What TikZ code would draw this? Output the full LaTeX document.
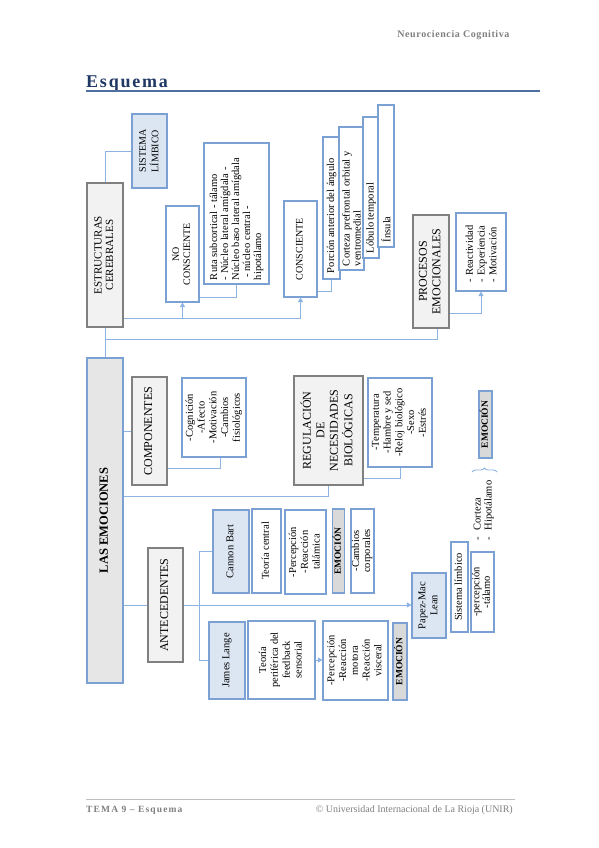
\documentclass[tikz,border=0pt]{standalone}
\usepackage{fontspec}
\setmainfont{Liberation Serif}
\usepackage{graphicx}
\usetikzlibrary{arrows.meta, decorations.pathreplacing}

\definecolor{boxblue}{HTML}{7BA0D3}
\definecolor{lineblue}{HTML}{8DB3E2}
\definecolor{lightblue}{HTML}{DCE6F2}
\definecolor{boxgray}{HTML}{808080}
\definecolor{fillgray}{HTML}{F2F2F2}
\definecolor{emogray}{HTML}{D9D9D9}
\definecolor{maingray}{HTML}{E6E6E6}
\definecolor{titleblue}{HTML}{1F3864}
\definecolor{ruleblue}{HTML}{4F6FA0}
\definecolor{textgray}{HTML}{7F7F7F}

% rotated text, read from bottom to top
\newcommand{\vtext}[2][c]{\rotatebox{90}{\begin{tabular}{@{}#1@{}}#2\end{tabular}}}
\newcommand{\vpar}[2]{\rotatebox{90}{\parbox{#1}{\raggedright #2}}}
\newcommand{\smtxt}{\fontsize{10.5}{11.8}\selectfont}
\newcommand{\bigtxt}{\fontsize{12}{13.5}\selectfont}

\begin{document}
\begin{tikzpicture}[x=1pt, y=-1pt,
    bx/.style={rectangle, inner sep=0pt, line width=1.1pt, font=\smtxt},
    wbox/.style={bx, draw=boxblue, fill=white},
    lbox/.style={bx, draw=boxblue, fill=lightblue},
    gbox/.style={bx, draw=boxgray, fill=fillgray, font=\bigtxt},
    ebox/.style={bx, draw=boxblue, fill=emogray, font=\fontsize{9.5}{11}\selectfont\bfseries},
    sz/.style 2 args={minimum width=#1pt, minimum height=#2pt},
    ln/.style={draw=lineblue, line width=0.9pt},
    ar/.style={ln, -{Triangle[width=5pt,length=4.5pt]}}
  ]
  \useasboundingbox (0,0) rectangle (599,848);

  % header and footer
  \node[anchor=east, font=\fontsize{10}{12}\selectfont\bfseries, text=textgray] (hdr) at (513,35)
    {\addfontfeatures{LetterSpace=6}Neurociencia Cognitiva};
  \node[anchor=base west, inner sep=0pt, font=\fontsize{18}{20}\selectfont\bfseries, text=titleblue] (tit) at (86,88)
    {\addfontfeatures{LetterSpace=10}Esquema};
  \draw[ruleblue, line width=1.5pt] (86,91) -- (540,91);
  \draw[black!25, line width=1pt] (86,799) -- (515,799);
  \node[anchor=west, inner sep=0pt, font=\fontsize{9.5}{11}\selectfont\bfseries, text=textgray] (ftl) at (86,810)
    {\addfontfeatures{LetterSpace=12}TEMA 9 – Esquema};
  \node[anchor=east, inner sep=0pt, font=\fontsize{10}{11}\selectfont, text=textgray] (ftr) at (513,810)
    {© Universidad Internacional de La Rioja (UNIR)};

  % estructuras cerebrales
  \node[gbox, sz={36}{144}, font=\fontsize{11}{11.5}\selectfont] (estr) at (105,255) {\vtext{ESTRUCTURAS\\CEREBRALES}};
  \node[lbox, sz={35}{74}, font=\fontsize{10}{12.5}\selectfont] (sist) at (149.5,151) {\vtext{SISTEMA\\LÍMBICO}};
  \node[wbox, sz={33}{96}, font=\fontsize{10}{11}\selectfont] (nocon) at (182.5,254) {\vtext{NO\\CONSCIENTE}};
  \node[wbox, sz={65}{141}, font=\fontsize{10.5}{11}\selectfont] (ruta) at (236.5,213.5)
    {\vpar{133pt}{Ruta subcortical - tálamo\\- Núcleo lateral amígdala -\\Núcleo baso lateral amígdala\\\ - núcleo central -\\hipotálamo}};
  \node[wbox, sz={33}{96}, font=\fontsize{10}{11}\selectfont] (cons) at (300.5,249) {\vtext{CONSCIENTE}};
  \node[wbox, sz={17}{142}] (porc) at (331.5,208) {\vpar{130pt}{Porción anterior del ángulo}};
  \node[wbox, sz={25}{143}, font=\fontsize{10.5}{11}\selectfont] (cort) at (351.5,198.5)
    {\vpar{135pt}{Corteza prefrontal orbital y\\ventromedial}};
  \node[wbox, sz={16}{141}] (lob) at (371,187.5) {\vpar{131pt}{Lóbulo temporal}};
  \node[wbox, sz={16}{142}] (insu) at (386,176) {\vpar{132pt}{Ínsula}};
  \node[gbox, sz={36}{113}] (proc) at (431,271.5) {\vtext{PROCESOS\\EMOCIONALES}};
  \node[wbox, sz={50}{78}] (react) at (481,252) {\vpar{60pt}{- Reactividad\\- Experiencia\\- Motivación}};

  % las emociones
  \node[bx, draw=boxblue, fill=maingray, sz={36}{325}, font=\fontsize{12.5}{14}\selectfont\bfseries] (emo) at (105,520.5)
    {\vtext{LAS EMOCIONES}};
  \node[gbox, sz={35}{108}] (comp) at (149.5,431) {\vtext{COMPONENTES}};
  \node[wbox, sz={64}{79}] (cogn) at (214,417.5) {\vtext{-Cognición\\-Afecto\\-Motivación\\-Cambios\\fisiológicos}};
  \node[gbox, sz={69}{109}] (regl) at (328.5,430.5) {\vtext{REGULACIÓN\\DE\\NECESIDADES\\BIOLÓGICAS}};
  \node[wbox, sz={64}{89}] (temp) at (400,422.5) {\vtext{-Temperatura\\-Hambre y sed\\-Reloj biológico\\-Sexo\\-Estrés}};
  \node[ebox, sz={13}{67}] (emoc1) at (485.5,424.5) {\vtext{EMOCIÓN}};
  \node[anchor=south, inner sep=0pt, font=\fontsize{10.5}{11}\selectfont] (corhip) at (484,541)
    {\vtext[l]{-\hspace{7pt}Corteza\\-\hspace{7pt}Hipotálamo}};
  \draw[lineblue, line width=0.9pt, decorate, decoration={brace, amplitude=4pt}] (472,472) -- (497,472);

  % antecedentes
  \node[gbox, sz={35}{114}] (ante) at (165.5,605) {\vtext{ANTECEDENTES}};
  \node[lbox, sz={36}{83}] (cannon) at (231,551.5) {\vtext{Cannon Bart}};
  \node[wbox, sz={29}{84}] (tcen) at (266.5,551) {\vtext{Teoría central}};
  \node[wbox, sz={41}{84}] (perc1) at (305.5,552) {\vtext{-Percepción\\-Reacción\\talámica}};
  \node[ebox, sz={11}{84}] (emoc2) at (338.5,551) {\vtext{EMOCIÓN}};
  \node[wbox, sz={23}{84}, font=\fontsize{10.5}{11}\selectfont] (camb) at (362.5,551) {\vtext{-Cambios\\corporales}};
  \node[lbox, sz={34}{65}] (papez) at (429,605.5) {\vtext{Papez-Mac\\Lean}};
  \node[wbox, sz={17}{90}] (slim) at (459.5,587) {\vtext{Sistema límbico}};
  \node[wbox, sz={23}{80}, font=\fontsize{10.5}{10.5}\selectfont] (ptal) at (482.5,592) {\vtext{-percepción\\-tálamo}};
  \node[lbox, sz={36}{77}] (james) at (227,660.5) {\vtext{James Lange}};
  \node[wbox, sz={67}{78}] (tper) at (281.5,660) {\vtext{Teoría\\periférica del\\feedback\\sensorial}};
  \node[wbox, sz={65}{79}] (perc2) at (355.5,660.5) {\vtext{-Percepción\\-Reacción\\motora\\-Reacción\\visceral}};
  \node[ebox, sz={14}{77}] (emoc3) at (400,661.5) {\vtext{EMOCIÓN}};

  % connectors
  \draw[ln] (estr.north) |- (sist.west);
  \draw[ar] (estr.east |- 0,318) -| (cons.south);
  \draw[ar] (nocon.south |- 0,318) -- (nocon.south);
  \draw[ln] (nocon.east |- 0,297) -| (ruta.south);
  \draw[ln] (cons.east |- 0,291) -| (porc.south);
  \draw[ln] (estr.south) -- (emo.north);
  \draw[ln] (estr.south |- 0,339) -| ([xshift=6pt]proc.south);
  \draw[ar] (proc.east |- 0,313) -| (react.south);
  \draw[ln] (emo.east |- comp.west) -- (comp.west);
  \draw[ln] (comp.east |- 0,468) -| ([xshift=6pt]cogn.south);
  \draw[ln] (emo.east |- 0,496) -| (regl.south);
  \draw[ln] (regl.east |- 0,478) -| (temp.south);
  \draw[ln] (emo.east |- ante.west) -- (ante.west);
  \draw[ar] (ante.east) -- (ante.east -| papez.west);
  \draw[ln] (cannon.west) -- ++(-13,0) |- (james.west);
  \draw[ar] (tper.east) -- (tper.east -| perc2.west);
\end{tikzpicture}
\end{document}
